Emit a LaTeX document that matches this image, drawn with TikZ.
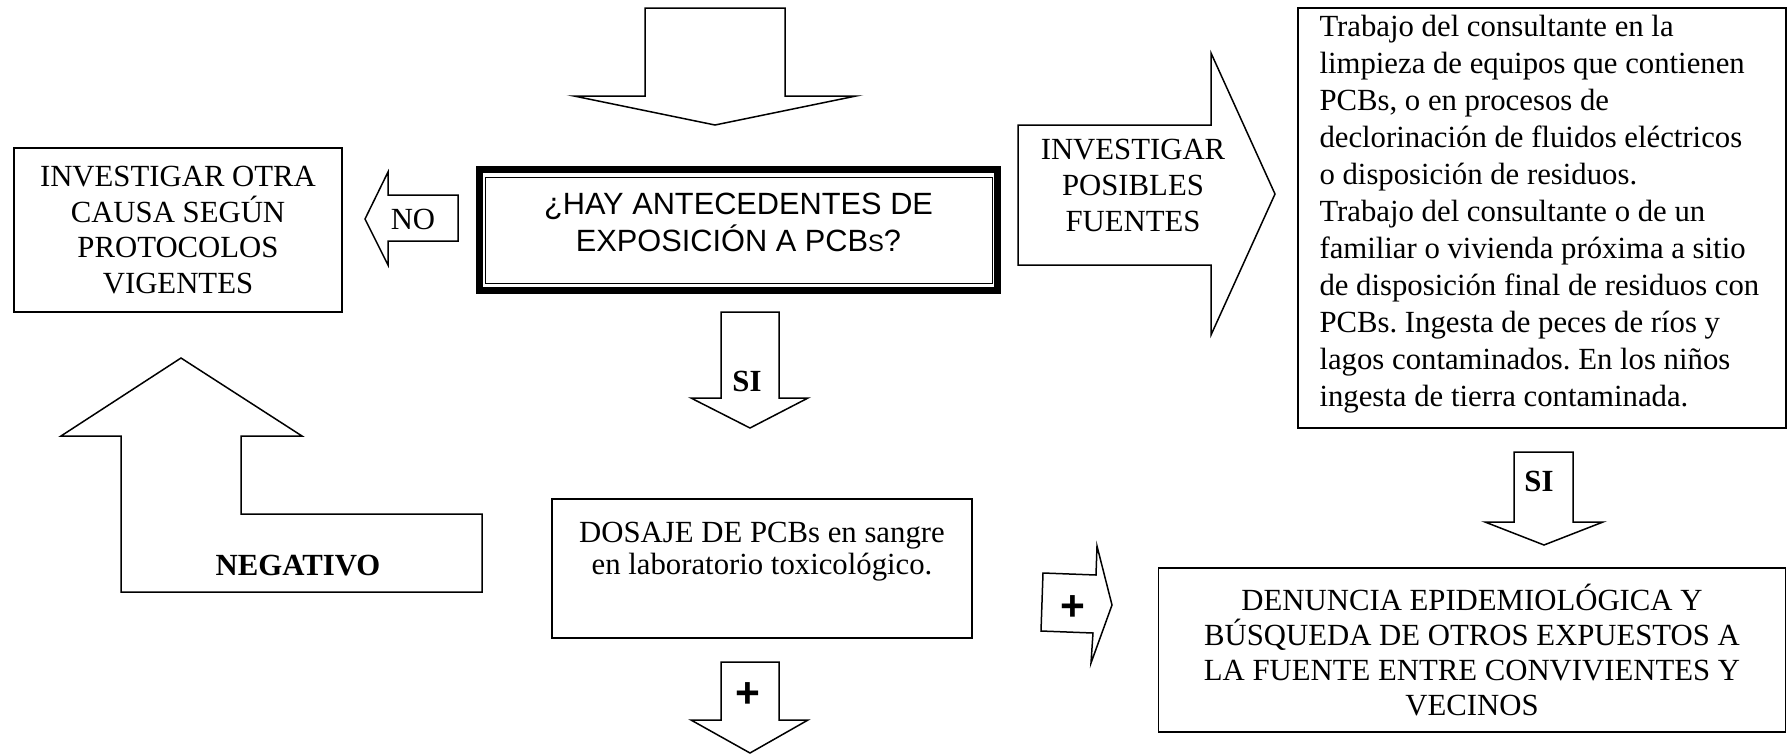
\documentclass[tikz,border=0pt]{standalone}
\usepackage{fontspec}
\setmainfont{Liberation Serif}
\setsansfont{Liberation Sans}
\frenchspacing

\begin{document}
\begin{tikzpicture}[x=0.4pt, y=-0.4pt,
	marco/.style={draw, line width=0.6pt, inner sep=0pt, outer sep=0pt, align=center, font=\fontsize{12.3}{14.2}\selectfont},
	flecha/.style={draw, line width=0.6pt},
	rotulo/.style={inner sep=0pt, align=center, font=\fontsize{12.3}{14.4}\selectfont},
	rotulob/.style={inner sep=0pt, font=\fontsize{12.3}{14.4}\selectfont\bfseries},
	signo/.style={inner sep=0pt, font=\sffamily\bfseries\fontsize{17}{17}\selectfont}]
				\useasboundingbox (0,0) rectangle (1787,755);
				\node[marco, minimum width=328*0.4pt, minimum height=164*0.4pt] (otra) at (178,230) {INVESTIGAR OTRA\\CAUSA SEGÚN\\PROTOCOLOS\\VIGENTES};
				\node[marco, line width=2.8pt, minimum width=518*0.4pt, minimum height=121*0.4pt] (pregunta) at (738.5,230) {};
				\draw[line width=0.4pt] ([shift={(5.5,7.5)}]pregunta.north west) rectangle ([shift={(-5.5,-7.5)}]pregunta.south east);
				\node[rotulo, font=\sffamily\fontsize{12.3}{14.8}\selectfont] (preguntatxt) at (738.5,222.5) {¿HAY ANTECEDENTES DE\\EXPOSICIÓN A PCB{\fontsize{9.5}{9.5}\selectfont S}?};
				\node[marco, minimum width=420*0.4pt, minimum height=139*0.4pt] (dosaje) at (762,568.5) {};
				\node[rotulo, font=\fontsize{12.3}{12.8}\selectfont] (dosajetxt) at (762,552) {DOSAJE DE PCBs en sangre\\en laboratorio toxicológico.};
				\node[marco, minimum width=488*0.4pt, minimum height=420*0.4pt] (fuentes) at (1542,218) {};
				\node[rotulo, align=left, anchor=west, font=\fontsize{12.3}{14.8}\selectfont] (fuentestxt) at (1319,213.7) {Trabajo del consultante en la\\limpieza de equipos que contienen\\PCBs, o en procesos de\\declorinación de fluidos eléctricos\\o disposición de residuos.\\Trabajo del consultante o de un\\familiar o vivienda próxima a sitio\\de disposición final de residuos con\\PCBs. Ingesta de peces de ríos y\\lagos contaminados. En los niños\\ingesta de tierra contaminada.};
				\node[marco, font=\fontsize{12.3}{14}\selectfont, minimum width=627*0.4pt, minimum height=164*0.4pt] (denuncia) at (1472,650) {DENUNCIA EPIDEMIOLÓGICA Y\\BÚSQUEDA DE OTROS EXPUESTOS A\\LA FUENTE ENTRE CONVIVIENTES Y\\VECINOS};
				\draw[flecha] (645,8) -- (785,8) -- (785,96) -- (856,96) -- (715,125) -- (574,96) -- (645,96) -- cycle;
				\draw[flecha] (458,195) -- (458,241) -- (388,241) -- (388,265) -- (365,219) -- (388,172) -- (388,195) -- cycle;
				\node[rotulo] (no) at (413,219) {NO};
				\draw[flecha] (721,312) -- (779,312) -- (779,398) -- (808,398) -- (750,428) -- (691,398) -- (721,398) -- cycle;
				\node[rotulob] (si) at (747,381) {SI};
				\draw[flecha] (721,662) -- (779,662) -- (779,720) -- (808,720) -- (750,753) -- (691,720) -- (721,720) -- cycle;
				\node[signo] (mas) at (748,695) {+};
				\draw[flecha] (181,358) -- (302,436) -- (241,436) -- (241,514) -- (482,514) -- (482,592) -- (121,592) -- (121,436) -- (61,436) -- cycle;
				\node[rotulob] (negativo) at (298,566) {NEGATIVO};
				\draw[flecha] (1018,125) -- (1211,125) -- (1211,53) -- (1275,194) -- (1211,335) -- (1211,265) -- (1018,265) -- cycle;
				\node[rotulo] (investigar) at (1133,185) {INVESTIGAR\\POSIBLES\\FUENTES};
				\draw[flecha] (1514,452) -- (1573,452) -- (1573,522) -- (1603,522) -- (1544,545) -- (1485,522) -- (1514,522) -- cycle;
				\node[rotulob] (si2) at (1539,481) {SI};
				\draw[flecha] (1043,573) -- (1096,575) -- (1097,546) -- (1112,605) -- (1091,663) -- (1093,633) -- (1041,631) -- cycle;
				\node[signo] (mas2) at (1073,608) {+};
			\end{tikzpicture}
\end{document}
